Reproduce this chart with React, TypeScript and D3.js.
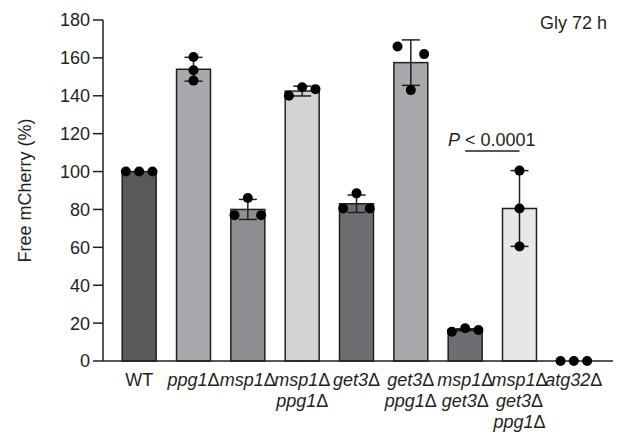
import React from "react"
import * as d3 from "d3"

// strains, in drawing order; each label is split into lines
const strains = [
  ["WT"],
  ["ppg1Δ"],
  ["msp1Δ"],
  ["msp1Δ", "ppg1Δ"],
  ["get3Δ"],
  ["get3Δ", "ppg1Δ"],
  ["msp1Δ", "get3Δ"],
  ["msp1Δ", "get3Δ", "ppg1Δ"],
  ["atg32Δ"],
]
const means = [100, 154, 80, 142.5, 83, 157.5, 16.5, 80.5, 0]
const sds = [0, 6.3, 5.3, 2.6, 4.6, 12, 0.5, 20, 0]
// replicate values, listed left, middle, right
const replicates = [
  [100, 100, 100],
  [160.5, 153.5, 148],
  [77, 86, 77],
  [140, 144.5, 143.5],
  [80.5, 88.5, 80.5],
  [166, 143, 162],
  [15.5, 17.3, 16.4],
  [80.5, 100.5, 60.5],
  [0, 0, 0],
]
// horizontal swarm column for each replicate (-1 left, 0 centre, 1 right)
const dotSide = [
  [-1, 0, 1],
  [0, 0, 0],
  [-1, 0, 1],
  [-1, 0, 1],
  [-1, 0, 1],
  [-1, 0, 1],
  [-1, 0, 1],
  [0, 0, 0],
  [-1, 0, 1],
]
const fills = ["#58595b", "#a7a9ac", "#8e8f92", "#d1d2d4", "#6d6e71", "#a7a9ac", "#6d6e71", "#e6e7e8", "#ffffff"]
const yTicks = [0, 20, 40, 60, 80, 100, 120, 140, 160, 180]

const font = "Arial, 'Liberation Sans', Helvetica, sans-serif"
const ink = "#231f20"

// gene names italic, the deletion sign upright
const geneLine = (l) => {
  if (l === "WT") return l
  const parts = l.split("Δ")
  return (
    <>
      <tspan fontStyle="italic">{parts[0]}</tspan>
      {l.includes("Δ") ? <tspan fontStyle="normal">Δ</tspan> : null}
    </>
  )
}

const App = () => {
  const axisX = 103
  const axisEnd = 613
  const y = d3.scaleLinear().domain([0, 180]).range([361, 20])
  const x = d3
    .scaleBand()
    .domain(strains.map((s, i) => String(i)))
    .range([112, 601])
    .paddingInner(0.375)
    .paddingOuter(0.1875)
  const bw = x.bandwidth()
  const cx = (i) => (x(String(i)) as number) + bw / 2

  return (
    <svg
      width={624}
      height={434}
      style={{ position: "absolute", left: 0, top: 0, background: "#fff" }}
      fontFamily={font}
    >
      {/* bars */}
      {means.map((m, i) => (
        <rect
          key={"b" + i}
          x={x(String(i))}
          y={y(m)}
          width={bw}
          height={y(0) - y(m)}
          fill={fills[i]}
          stroke={ink}
          strokeWidth={1.5}
        />
      ))}
      {/* error bars */}
      {means.map((m, i) =>
        sds[i] > 0 ? (
          <g key={"e" + i} stroke={ink} strokeWidth={1.5}>
            <line x1={cx(i)} x2={cx(i)} y1={y(m - sds[i])} y2={y(m + sds[i])} />
            <line x1={cx(i) - 9} x2={cx(i) + 9} y1={y(m + sds[i])} y2={y(m + sds[i])} />
            <line x1={cx(i) - 9} x2={cx(i) + 9} y1={y(m - sds[i])} y2={y(m - sds[i])} />
          </g>
        ) : null
      )}
      {/* axes */}
      <line x1={axisX} x2={axisX} y1={y(180)} y2={y(0)} stroke={ink} strokeWidth={1.5} />
      <line x1={axisX} x2={axisEnd} y1={y(0)} y2={y(0)} stroke={ink} strokeWidth={1.5} />
      {yTicks.map((t) => (
        <g key={"t" + t}>
          <line x1={axisX - 10} x2={axisX} y1={y(t)} y2={y(t)} stroke={ink} strokeWidth={1.5} />
          <text x={axisX - 13} y={y(t)} dy="0.36em" textAnchor="end" fontSize={18} fill={ink}>
            {t}
          </text>
        </g>
      ))}
      {/* replicate dots */}
      {replicates.map((vals, i) =>
        vals.map((v, j) => (
          <circle key={"d" + i + "-" + j} cx={cx(i) + dotSide[i][j] * 13.3} cy={y(v)} r={5} fill="#000" />
        ))
      )}
      {/* x labels */}
      {strains.map((lines, i) => (
        <text key={"x" + i} x={cx(i)} y={386} textAnchor="middle" fontSize={18} fill={ink}>
          {lines.map((l, k) => (
            <tspan key={k} x={cx(i)} dy={k === 0 ? 0 : 21}>
              {geneLine(l)}
            </tspan>
          ))}
        </text>
      ))}
      {/* y label */}
      <text
        transform={`translate(31, ${y(90)}) rotate(-90)`}
        textAnchor="middle"
        fontSize={18}
        fill={ink}
      >
        Free mCherry (%)
      </text>
      <text x={607} y={29} textAnchor="end" fontSize={18} fill={ink}>
        Gly 72 h
      </text>
      {/* significance */}
      <line x1={cx(6)} x2={cx(7)} y1={151} y2={151} stroke={ink} strokeWidth={1.5} />
      <text x={448} y={146} fontSize={18} fill={ink}>
        <tspan fontStyle="italic">P</tspan> {"< 0.0001"}
      </text>
    </svg>
  )
}

export default App
